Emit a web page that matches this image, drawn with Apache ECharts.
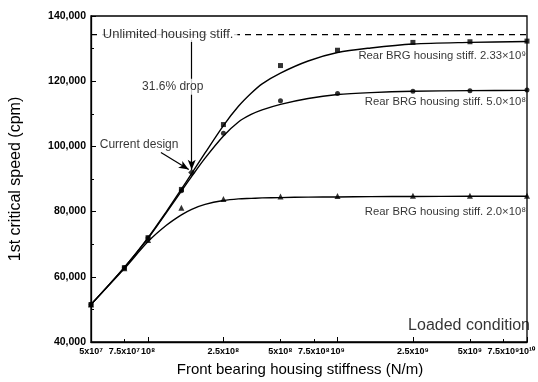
<!DOCTYPE html>
<html>
<head>
<meta charset="utf-8">
<script src="https://cdn.jsdelivr.net/npm/echarts@6/dist/echarts.min.js"></script>
<style>
  html, body { margin: 0; padding: 0; background: #fff; }
  #chart { width: 538px; height: 382px; }
</style>
</head>
<body>
<div id="chart"></div>
<script>
// Front bearing housing stiffness (N/m) of the computed cases
const caseStiffness = [5e7, 7.5e7, 1e8, 1.5e8, 2.5e8, 5e8, 1e9, 2.5e9, 5e9, 1e10];
// 1st critical speed (cpm) for each rear bearing housing stiffness
const speedRear233e9 = [51500, 62800, 72000, 86800, 106700, 124800, 129500, 131900, 132100, 132300];
const speedRear50e8  = [51500, 62800, 71900, 86400, 104000, 114000, 116200, 116900, 117100, 117300];
const speedRear20e8  = [51500, 62600, 71300, 81200, 83900, 84600, 84800, 84900, 84900, 84900];

// Current design point
const currentDesign = [[1.7e8, 92000]];

// Fitted trend curves
const fitStiffness = [5e7, 7.5e7, 1e8, 1.25e8, 1.5e8, 1.7e8, 2e8, 2.5e8, 3e8, 3.5e8, 4e8, 5e8, 7e8, 1e9, 1.5e9, 2.5e9, 5e9, 1e10];
const fitRear233e9 = [51500, 62900, 72000, 80000, 86900, 91700, 98000, 106400, 112300, 116300, 119200, 122500, 126200, 128800, 130200, 131400, 131900, 132200];
const fitRear50e8  = [51500, 62900, 71800, 79700, 86300, 90800, 96400, 103200, 107500, 109800, 111200, 112900, 114700, 115900, 116500, 116900, 117100, 117200];
const fitRear20e8  = [51500, 62500, 70800, 75800, 79000, 80700, 82200, 83400, 83900, 84050, 84200, 84300, 84450, 84500, 84600, 84650, 84700, 84700];

// Unlimited housing stiffness limit
const unlimitedSpeed = 134300;

// Axis ticks; the axis end (1e10) sits a hair inside the range so it is kept
const tickValues = [5e7, 7.5e7, 1e8, 2.5e8, 5e8, 7.5e8, 1e9, 2.5e9, 5e9, 7.5e9];
const tickLabels = ['5x10⁷', '7.5x10⁷', '10⁸', '2.5x10⁸', '5x10⁸', '7.5x10⁸', '10⁹', '2.5x10⁹', '5x10⁹', '7.5x10⁹'];
const endTickValue = 0.99999e10;
const endTickLabel = '10¹⁰';
const majorTickValues = [1e8, 2.5e8, 1e9, 2.5e9, endTickValue];

const FONT = "'Liberation Sans', Arial, sans-serif";
const pairs = (xs, ys) => xs.map((x, i) => [x, ys[i]]);

function tickLabel(v) {
  let best = 0, bestErr = Infinity;
  tickValues.forEach((t, i) => {
    const err = Math.abs(Math.log10(v) - Math.log10(t));
    if (err < bestErr) { bestErr = err; best = i; }
  });
  return tickLabels[best];
}

const chart = echarts.init(document.getElementById('chart'));

function note(text, coord, opts) {
  return {
    type: 'scatter',
    symbolSize: 0,
    silent: true,
    z: 10,
    data: [coord],
    label: Object.assign({
      show: true,
      formatter: text,
      color: '#000',
      fontFamily: FONT,
      fontSize: 12
    }, opts || {})
  };
}

const markerStyle = { color: '#000' };
const curve = (data) => ({
  type: 'line', data, smooth: 0.3, symbol: 'none',
  lineStyle: { color: '#000', width: 1.4 }, z: 3
});

const tickFont = { fontFamily: FONT, fontWeight: 'bold', fontSize: 9, color: '#000', margin: 5 };

const option = {
  animation: false,
  backgroundColor: '#fff',
  grid: { left: 88, right: 9, top: 16, bottom: 39, show: true, borderColor: '#000', borderWidth: 1.3, backgroundColor: 'transparent' },
  xAxis: [
    {
      type: 'log',
      logBase: 10,
      min: 5e7,
      max: 1e10,
      name: 'Front bearing housing stiffness (N/m)',
      nameLocation: 'middle',
      nameGap: 20,
      nameTextStyle: { fontFamily: FONT, fontSize: 15, color: '#000', padding: [0, 18, 0, 0] },
      axisLine: { lineStyle: { color: '#000', width: 1.3 } },
      axisTick: { inside: true, length: 3, customValues: tickValues.concat([endTickValue]), lineStyle: { color: '#000', width: 1 } },
      minorTick: { show: false },
      splitLine: { show: false },
      axisLabel: Object.assign({
        customValues: tickValues,
        formatter: tickLabel,
        hideOverlap: false
      }, tickFont)
    },
    {
      type: 'log',
      logBase: 10,
      min: 5e7,
      max: 1e10,
      position: 'bottom',
      axisLine: { show: false },
      axisTick: { inside: true, length: 5, customValues: majorTickValues, lineStyle: { color: '#000', width: 1 } },
      axisLabel: Object.assign({
        customValues: [endTickValue],
        formatter: () => endTickLabel,
        showMaxLabel: true,
        hideOverlap: false
      }, tickFont),
      splitLine: { show: false }
    }
  ],
  yAxis: {
    type: 'value',
    min: 40000,
    max: 140000,
    interval: 20000,
    name: '1st critical speed (cpm)',
    nameLocation: 'middle',
    nameGap: 67,
    nameTextStyle: { fontFamily: FONT, fontSize: 16, color: '#000' },
    axisLine: { show: true, lineStyle: { color: '#000', width: 1.3 } },
    axisTick: { inside: true, length: 5, lineStyle: { color: '#000', width: 1 } },
    minorTick: { show: true, splitNumber: 2, length: 3, lineStyle: { color: '#000', width: 1 } },
    splitLine: { show: false },
    axisLabel: {
      formatter: v => v.toLocaleString('en-US'),
      fontFamily: FONT,
      fontWeight: 'bold',
      fontSize: 10.5,
      color: '#000',
      margin: 5
    }
  },
  series: [
    // unlimited stiffness limit
    {
      type: 'line',
      data: [[5e7, unlimitedSpeed], [1e10, unlimitedSpeed]],
      symbol: 'none',
      silent: true,
      lineStyle: { color: '#000', width: 1.2, type: [6, 5] },
      z: 2
    },
    // fitted curves
    curve(pairs(fitStiffness, fitRear233e9)),
    curve(pairs(fitStiffness, fitRear50e8)),
    curve(pairs(fitStiffness, fitRear20e8)),
    // computed points
    { type: 'scatter', data: pairs(caseStiffness, speedRear233e9), symbol: 'rect', symbolSize: 5, itemStyle: markerStyle, z: 4 },
    { type: 'scatter', data: pairs(caseStiffness, speedRear50e8), symbol: 'circle', symbolSize: 5, itemStyle: markerStyle, z: 4 },
    { type: 'scatter', data: pairs(caseStiffness, speedRear20e8), symbol: 'triangle', symbolSize: 6, itemStyle: markerStyle, z: 4 },
    { type: 'scatter', data: currentDesign, symbol: 'diamond', symbolSize: 7, itemStyle: markerStyle, z: 4 },
    // arrows
    {
      type: 'scatter',
      data: [],
      silent: true,
      z: 5,
      markLine: {
        silent: true,
        animation: false,
        symbol: ['none', 'arrow'],
        symbolSize: [6, 10],
        label: { show: false },
        lineStyle: { color: '#000', width: 1.2, type: 'solid' },
        data: [
          [{ coord: [1.7e8, 132700] }, { coord: [1.7e8, 92800] }],
          [{ coord: [1.17e8, 98100] }, { coord: [1.64e8, 92900] }]
        ]
      }
    },
    // annotations
    note('Unlimited housing stiff.', [5.5e7, unlimitedSpeed], {
      position: 'right', distance: 0, backgroundColor: '#fff', padding: [1, 4], fontSize: 13
    }),
    note('31.6% drop', [1.35e8, 118300], {
      position: 'inside', backgroundColor: '#fff', padding: [2, 2]
    }),
    note('Current design', [8.97e7, 100550], { position: 'inside' }),
    note('Rear BRG housing stiff. 2.33×10⁹', [1e10, 127800], { position: 'left', distance: 1, fontSize: 11.3 }),
    note('Rear BRG housing stiff. 5.0×10⁸', [1e10, 113700], { position: 'left', distance: 1, fontSize: 11.3 }),
    note('Rear BRG housing stiff. 2.0×10⁸', [1e10, 80000], { position: 'left', distance: 1, fontSize: 11.3 }),
    note('Loaded condition', [1e10, 45100], { position: 'left', distance: -3, fontSize: 16 })
  ]
};

chart.setOption(option);
</script>
</body>
</html>
